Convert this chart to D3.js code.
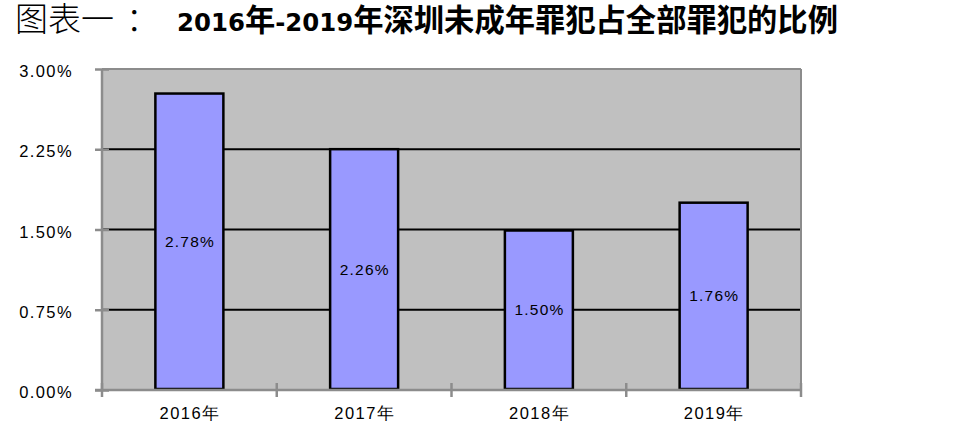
<!DOCTYPE html>
<html><head><meta charset="utf-8">
<script src="https://cdn.jsdelivr.net/npm/d3@7"></script>
<style>body{margin:0;background:#fff;} svg{display:block;}</style>
</head><body>
<svg id="c" width="962" height="444"></svg>
<script>
const categories = ["2016年","2017年","2018年","2019年"];
const values = [2.78, 2.26, 1.50, 1.76];
const valueLabels = ["2.78%","2.26%","1.50%","1.76%"];
const yTicks = [0, 0.75, 1.5, 2.25, 3.0];
const yTickLabels = ["0.00%","0.75%","1.50%","2.25%","3.00%"];
const titlePrefix = "图表一";
const titleColon = "：";
const titleMain = "2016年-2019年深圳未成年罪犯占全部罪犯的比例";

const svg = d3.select("#c");
const L = 102, R = 801, T = 69, B = 390;
const x = d3.scaleBand().domain(categories).range([L, R]).paddingInner(0).paddingOuter(0);
const y = d3.scaleLinear().domain([0, 3]).range([B, T]);
const font = "'Liberation Sans', Arial, sans-serif";
const gray = "#8c8c8c";

// title
const tPre = svg.append("text").attr("x", 15).attr("y", 31).attr("font-family", "'Noto Sans CJK SC', sans-serif")
  .attr("font-size", 33).attr("font-weight", 300).attr("fill", "#000");
tPre.append("tspan").text(titlePrefix);
tPre.append("tspan").attr("dx", 12).text(titleColon);
const tMain = svg.append("text").attr("x", 177).attr("y", 31).attr("fill", "#000").attr("font-weight", "bold");
const runs = titleMain.match(/[\x00-\x7F]+|[^\x00-\x7F]+/g);
runs.forEach(r => {
  const ascii = /^[\x00-\x7F]+$/.test(r);
  tMain.append("tspan")
    .attr("font-family", ascii ? "'DejaVu Sans', sans-serif" : "'Noto Sans CJK SC', sans-serif")
    .attr("font-size", ascii ? 24.4 : 30.3)
    .text(r);
});

// plot background
svg.append("rect").attr("x", L).attr("y", T).attr("width", R - L).attr("height", B - T).attr("fill", "#c0c0c0");

// gridlines
svg.append("g").selectAll("line").data(yTicks.filter(d => d > 0 && d < 3)).join("line")
  .attr("x1", L).attr("x2", R).attr("y1", d => y(d)).attr("y2", d => y(d))
  .attr("stroke", "#000").attr("stroke-width", 2);

// top & right border
svg.append("line").attr("x1", L).attr("x2", R).attr("y1", T).attr("y2", T).attr("stroke", gray).attr("stroke-width", 2);
svg.append("line").attr("x1", R).attr("x2", R).attr("y1", T).attr("y2", B).attr("stroke", gray).attr("stroke-width", 2);

// bars
const bw = 68;
svg.append("g").selectAll("rect").data(values).join("rect")
  .attr("x", (d, i) => x(categories[i]) + x.bandwidth() / 2 - bw / 2)
  .attr("y", d => y(d) + 1).attr("width", bw).attr("height", d => B - y(d) - 2)
  .attr("fill", "#9999ff").attr("stroke", "#000").attr("stroke-width", 2.5);

// value labels
svg.append("g").selectAll("text").data(values).join("text")
  .attr("x", (d, i) => x(categories[i]) + x.bandwidth() / 2 + 0.6)
  .attr("y", d => (y(d) + B) / 2 + 5.5)
  .attr("text-anchor", "middle").attr("font-family", font).attr("font-size", 15.5)
  .attr("letter-spacing", 1.2).attr("fill", "#000")
  .text((d, i) => valueLabels[i]);

// y axis
const yAxis = d3.axisLeft(y).tickValues(yTicks).tickFormat((d, i) => yTickLabels[i]).tickSize(7).tickPadding(22);
const gy = svg.append("g").attr("transform", `translate(${L},0)`).call(yAxis);
gy.select(".domain").attr("stroke", gray).attr("stroke-width", 2.5).attr("d", `M0,${T}V${B}`);
gy.selectAll(".tick line").attr("stroke", gray).attr("stroke-width", 2.5).attr("x2", -7).attr("x1", 7);
gy.selectAll(".tick text").attr("font-family", font).attr("font-size", 16.5)
  .attr("letter-spacing", 1.4).attr("dy", "0.46em").attr("fill", "#000");

// x axis
const xAxis = d3.axisBottom(x).tickSize(0).tickPadding(17);
const gx = svg.append("g").attr("transform", `translate(0,${B})`).call(xAxis);
gx.select(".domain").attr("stroke", gray).attr("stroke-width", 2.5).attr("d", `M${L - 7},0H${R}`);
gx.selectAll(".tick text").attr("font-family", font).attr("font-size", 16.5)
  .attr("letter-spacing", 1.5).attr("dx", 0.75).attr("fill", "#000");
const bounds = categories.map(c => x(c)).concat([R]);
gx.append("g").selectAll("line").data(bounds).join("line")
  .attr("x1", d => d).attr("x2", d => d).attr("y1", -7).attr("y2", 7)
  .attr("stroke", gray).attr("stroke-width", 2.5);
</script>
</body></html>
